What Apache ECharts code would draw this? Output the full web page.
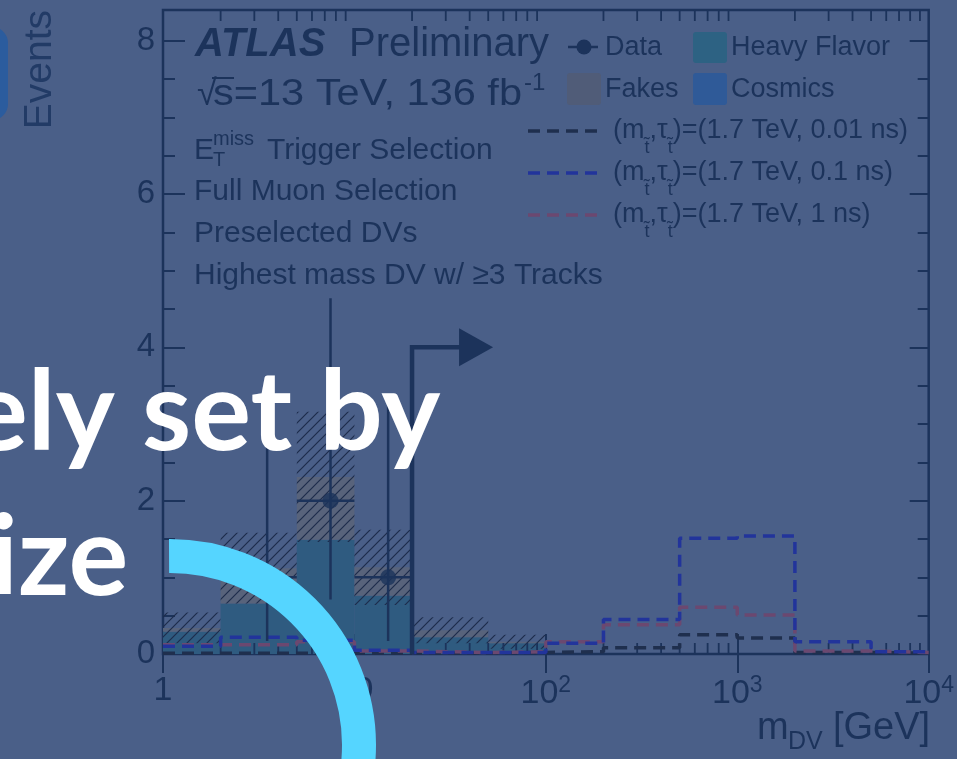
<!DOCTYPE html>
<html>
<head>
<meta charset="utf-8">
<script src="https://cdn.jsdelivr.net/npm/echarts@6/dist/echarts.min.js"></script>
<style>
  html, body { margin: 0; padding: 0; background: #4a5f88; }
  #main { width: 957px; height: 759px; }
</style>
</head>
<body>
<div id="main"></div>
<script>
// ---- m_DV histogram contents (bin edges in GeV, 12 bins) ----
const binEdges    = [1, 2, 5, 10, 20, 50, 100, 200, 500, 1000, 2000, 5000, 10000];
const heavyFlavor = [0.29, 0.66, 1.49, 0.76, 0.22, 0.14, 0, 0, 0, 0, 0, 0];
const fakes       = [0.05, 0.46, 0.82, 0.37, 0.09, 0.02, 0, 0, 0, 0, 0, 0];
const cosmics     = [0, 0, 0, 0, 0, 0, 0, 0, 0, 0, 0, 0];
const bkgUncert   = [0.20, 0.46, 0.85, 0.49, 0.17, 0.09, 0, 0, 0, 0, 0, 0];

// observed events and Poisson error bars
const dataCounts  = [0, 1, 2, 1, 0, 0, 0, 0, 0, 0, 0, 0];
const dataErrLow  = [0, 0.83, 1.29, 0.83, 0, 0, 0, 0, 0, 0, 0, 0];
const dataErrHigh = [0, 2.30, 2.64, 2.30, 0, 0, 0, 0, 0, 0, 0, 0];

// signal benchmarks (m_stop = 1.7 TeV)
const sig001ns = [0.01, 0.01, 0.01, 0.01, 0.01, 0.02, 0.03, 0.08, 0.25, 0.21, 0.02, 0.01];
const sig01ns  = [0.10, 0.22, 0.18, 0.05, 0.02, 0.02, 0.14, 0.45, 1.51, 1.54, 0.16, 0.03];
const sig1ns   = [0.12, 0.12, 0.16, 0.04, 0.02, 0.03, 0.16, 0.38, 0.61, 0.51, 0.04, 0.02];

// selection cut shown by the arrow
const cutMass = 20, arrowLevel = 4, arrowTip = 53;

// axes
const yTickValues = [0, 2, 4, 6, 8];
const yMax = 8.4;
const xMinorTicks = [2,3,4,5,6,7,8,9, 20,30,40,50,60,70,80,90, 200,300,400,500,600,700,800,900, 2000,3000,4000,5000,6000,7000,8000,9000];

const INK = '#1c335b';
const SANS = '"Liberation Sans", Arial, sans-serif';
const C_HF = '#2f5b80', C_FAKE = '#58637b', C_COS = '#2f5a98';
const C_S001 = '#1f2f4e', C_S01 = '#22349b', C_S1 = '#6b4870';

// diagonal hatch for the background uncertainty band
const hatch = document.createElement('canvas');
hatch.width = 10; hatch.height = 10;
(function () {
  const c = hatch.getContext('2d');
  c.strokeStyle = '#1e2d4c'; c.lineWidth = 1.2;
  c.beginPath();
  c.moveTo(0, 10); c.lineTo(10, 0);
  c.moveTo(-1, 1); c.lineTo(1, -1);
  c.moveTo(9, 11); c.lineTo(11, 9);
  c.stroke();
})();

const bkgRows = heavyFlavor.map((h, i) => [binEdges[i], binEdges[i + 1], h, fakes[i], cosmics[i], bkgUncert[i]]);
const dataRows = [];
dataCounts.forEach((n, i) => {
  if (n > 0) dataRows.push([(binEdges[i] + binEdges[i + 1]) / 2, n, binEdges[i], binEdges[i + 1], n - dataErrLow[i], n + dataErrHigh[i]]);
});
function stepRows(vals) {
  const rows = vals.map((v, i) => [binEdges[i], v]);
  rows.push([binEdges[binEdges.length - 1], vals[vals.length - 1]]);
  return rows;
}

function renderBkg(params, api) {
  const x0 = api.value(0), x1 = api.value(1);
  const hf = api.value(2), fk = api.value(3), co = api.value(4), un = api.value(5);
  const tot = hf + fk + co;
  if (tot <= 0) return { type: 'group', children: [] };
  const box = (lo, hi, style) => {
    const a = api.coord([x0, lo]), b = api.coord([x1, hi]);
    return { type: 'rect', shape: { x: a[0], y: b[1], width: b[0] - a[0], height: a[1] - b[1] }, style };
  };
  const kids = [
    box(0, hf, { fill: C_HF }),
    box(hf, hf + fk, { fill: C_FAKE }),
    box(hf + fk, tot, { fill: C_COS }),
  ];
  if (un > 0) kids.push(box(Math.max(0, tot - un), tot + un, { fill: { image: hatch, repeat: 'repeat' } }));
  return { type: 'group', children: kids };
}

function renderDataErr(params, api) {
  const xc = api.value(0), y = api.value(1);
  const a = api.coord([api.value(2), y]), b = api.coord([api.value(3), y]);
  const lo = api.coord([xc, api.value(4)]), hi = api.coord([xc, api.value(5)]);
  const st = { stroke: INK, lineWidth: 2.5 };
  return { type: 'group', children: [
    { type: 'line', shape: { x1: a[0], y1: a[1], x2: b[0], y2: b[1] }, style: st },
    { type: 'line', shape: { x1: lo[0], y1: lo[1], x2: hi[0], y2: hi[1] }, style: st },
  ] };
}

function renderMinorX(params, api) {
  const v = api.value(0);
  const b = api.coord([v, 0]), t = api.coord([v, yMax]);
  const st = { stroke: INK, lineWidth: 1.8 };
  return { type: 'group', children: [
    { type: 'line', shape: { x1: b[0], y1: b[1], x2: b[0], y2: b[1] - 11 }, style: st },
    { type: 'line', shape: { x1: t[0], y1: t[1], x2: t[0], y2: t[1] + 11 }, style: st },
  ] };
}

function renderArrow(params, api) {
  const base = api.coord([api.value(0), 0]);
  const corner = api.coord([api.value(0), api.value(1)]);
  const tip = api.coord([api.value(2), api.value(1)]);
  const headLen = 34, headHalf = 19;
  return { type: 'group', children: [
    { type: 'polyline', shape: { points: [base, corner, [tip[0] - headLen + 2, tip[1]]] },
      style: { stroke: INK, lineWidth: 4.5, fill: null } },
    { type: 'polygon', shape: { points: [[tip[0] - headLen, tip[1] - headHalf], [tip[0], tip[1]], [tip[0] - headLen, tip[1] + headHalf]] },
      style: { fill: INK } },
  ] };
}

// ---- text helpers ----
const mctx = document.createElement('canvas').getContext('2d');
function fontStr(size, weight, style, family) {
  return `${style || 'normal'} ${weight || 'normal'} ${size}px ${family || SANS}`;
}
function measure(text, size, weight, style, family) {
  mctx.font = fontStr(size, weight, style, family);
  return mctx.measureText(text).width;
}
function txt(x, base, text, size, o) {
  o = o || {};
  const k = o.mid || 0.347;
  return { type: 'text', x, y: base - k * size, z: o.z || 10, rotation: o.rotation || 0, scaleX: o.scaleX || 1,
    style: { text, fill: o.fill || INK, font: fontStr(size, o.weight, o.style, o.family),
      align: o.align || 'left', verticalAlign: 'middle' } };
}
// sequence of text runs laid out left to right, each with its own size and baseline shift
function runs(x, base, parts) {
  const out = [];
  let cx = x;
  parts.forEach(p => {
    out.push(txt(cx, base + (p.dy || 0), p.t, p.s, p));
    cx += measure(p.t, p.s, p.weight, p.style) + (p.gap || 0);
  });
  return out;
}

const graphics = [];
// ATLAS label and selection text
graphics.push(txt(195, 59, 'ATLAS', 40, { weight: 'bold', style: 'italic' }));
graphics.push(txt(349, 59, 'Preliminary', 40));
graphics.push(txt(197, 108, '\u221A', 36));
graphics.push({ type: 'line', z: 10, shape: { x1: 212, y1: 78, x2: 234, y2: 78 }, style: { stroke: INK, lineWidth: 2 } });
const lumiText = 's=13 TeV, 136 fb';
graphics.push(txt(213, 108, lumiText, 37, { scaleX: 309 / measure(lumiText, 37) }));
graphics.push(txt(524, 92, '-1', 24));
graphics.push(txt(194, 161, 'E', 30));
graphics.push(txt(213, 146, 'miss', 20));
graphics.push(txt(213, 167, 'T', 20));
graphics.push(txt(267, 161, 'Trigger Selection', 30));
graphics.push(txt(194, 202, 'Full Muon Selection', 30));
graphics.push(txt(194, 244, 'Preselected DVs', 30));
graphics.push(txt(194, 286, 'Highest mass DV w/ \u22653 Tracks', 30));

// legend
graphics.push({ type: 'line', z: 10, shape: { x1: 568, y1: 47, x2: 598, y2: 47 }, style: { stroke: INK, lineWidth: 2.5 } });
graphics.push({ type: 'circle', z: 10, shape: { cx: 584, cy: 47, r: 7.5 }, style: { fill: INK } });
graphics.push(txt(605, 57, 'Data', 27));
graphics.push({ type: 'rect', z: 10, shape: { x: 693, y: 32, width: 34, height: 31, r: 3 }, style: { fill: '#2d6283' } });
graphics.push(txt(731, 57, 'Heavy Flavor', 27));
graphics.push({ type: 'rect', z: 10, shape: { x: 567, y: 73, width: 34, height: 32, r: 3 }, style: { fill: '#505c78' } });
graphics.push(txt(605, 99, 'Fakes', 27));
graphics.push({ type: 'rect', z: 10, shape: { x: 693, y: 73, width: 34, height: 32, r: 3 }, style: { fill: C_COS } });
graphics.push(txt(731, 99, 'Cosmics', 27));
const sigLegend = [
  { y: 131, color: C_S001, label: '0.01 ns' },
  { y: 173, color: C_S01, label: '0.1 ns' },
  { y: 215, color: C_S1, label: '1 ns' },
];
sigLegend.forEach(e => {
  graphics.push({ type: 'line', z: 10, shape: { x1: 528, y1: e.y, x2: 598, y2: e.y },
    style: { stroke: e.color, lineWidth: 3.5, lineDash: [12, 7] } });
  const b = e.y + 9;
  graphics.push(...runs(613, b, [
    { t: '(m', s: 27 },
    { t: 't\u0303', s: 18, dy: 14 },
    { t: ',\u03C4', s: 27 },
    { t: 't\u0303', s: 18, dy: 14 },
    { t: ')=(1.7 TeV, ' + e.label + ')', s: 27 },
  ]));
});

// x-axis title
graphics.push(txt(757, 742, 'm', 38));
graphics.push(txt(788, 751, 'DV', 25));
graphics.push(txt(833, 742, '[GeV]', 38));
// y-axis title
graphics.push({ type: 'text', x: 40, y: 10, rotation: Math.PI / 2, z: 10,
  style: { text: 'Events', fill: '#223b66', font: fontStr(39), align: 'right', verticalAlign: 'middle' } });

// foreground: side tab, caption words and ring segment
graphics.push({ type: 'rect', z: 50, shape: { x: -70, y: 27, width: 78, height: 93, r: 16 }, style: { fill: '#2b5c9e' } });
const LATO = 'Lato, "Open Sans", sans-serif';
const capSize = 112;
graphics.push(txt(142 - measure('ely ', capSize, 'bold', 'normal', LATO), 457, 'ely set by', capSize,
  { fill: '#ffffff', weight: 'bold', family: LATO, mid: 0.387, z: 60 }));
graphics.push(txt(18 - measure('i', capSize, 'bold', 'normal', LATO), 602, 'ize', capSize,
  { fill: '#ffffff', weight: 'bold', family: LATO, mid: 0.387, z: 60 }));
graphics.push({ type: 'arc', z: 70, shape: { cx: 170, cy: 745, r: 189, startAngle: -Math.PI / 2 - 0.005, endAngle: 0.35, clockwise: true },
  style: { stroke: '#55d5ff', lineWidth: 34, fill: null, lineCap: 'butt' } });

const chart = echarts.init(document.getElementById('main'), null, { renderer: 'canvas' });
chart.setOption({
  animation: false,
  backgroundColor: '#4a5f88',
  grid: { left: 163, right: 27, top: 10, bottom: 105, show: true, borderColor: INK, borderWidth: 2.5, backgroundColor: 'transparent' },
  xAxis: [
    { type: 'log', logBase: 10, min: 1, max: 10000, position: 'bottom',
      axisLine: { show: false }, splitLine: { show: false },
      axisTick: { show: true, inside: true, length: 20, lineStyle: { color: INK, width: 2 } },
      axisLabel: { color: INK, fontFamily: SANS, fontSize: 34, margin: 20,
        formatter: v => {
          const p = Math.round(Math.log10(v));
          if (p === 0) return '1';
          if (p === 1) return '10';
          return '10{sup|' + p + '}';
        },
        rich: { sup: { fontSize: 23, color: INK, fontFamily: SANS, verticalAlign: 'top', padding: [0, 0, 16, 0] } } } },
    { type: 'log', logBase: 10, min: 1, max: 10000, position: 'top',
      axisLine: { show: false }, splitLine: { show: false }, axisLabel: { show: false },
      axisTick: { show: true, inside: true, length: 19, lineStyle: { color: INK, width: 2 } } },
  ],
  yAxis: [
    { type: 'value', min: 0, max: yMax, interval: 2, position: 'left',
      axisLine: { show: false }, splitLine: { show: false },
      axisTick: { show: true, inside: true, length: 22, lineStyle: { color: INK, width: 2 } },
      minorTick: { show: true, splitNumber: 4, length: 12, lineStyle: { color: INK, width: 2 } },
      axisLabel: { color: INK, fontFamily: SANS, fontSize: 33, margin: 8, showMaxLabel: false,
        formatter: v => (yTickValues.indexOf(v) >= 0 ? String(v) : '') } },
    { type: 'value', min: 0, max: yMax, interval: 2, position: 'right',
      axisLine: { show: false }, splitLine: { show: false }, axisLabel: { show: false },
      axisTick: { show: true, inside: true, length: 19, lineStyle: { color: INK, width: 2 } },
      minorTick: { show: true, splitNumber: 4, length: 11, lineStyle: { color: INK, width: 2 } } },
  ],
  series: [
    { name: 'Background', type: 'custom', renderItem: renderBkg, data: bkgRows, clip: true, z: 2 },
    { name: 'minor ticks', type: 'custom', renderItem: renderMinorX, data: xMinorTicks.map(v => [v]), silent: true, z: 3 },
    { name: '0.01 ns', type: 'line', step: 'end', data: stepRows(sig001ns), showSymbol: false, z: 4,
      lineStyle: { color: C_S001, width: 3.5, type: [12, 7] } },
    { name: '1 ns', type: 'line', step: 'end', data: stepRows(sig1ns), showSymbol: false, z: 4,
      lineStyle: { color: C_S1, width: 3.5, type: [12, 7] } },
    { name: '0.1 ns', type: 'line', step: 'end', data: stepRows(sig01ns), showSymbol: false, z: 4,
      lineStyle: { color: C_S01, width: 3.5, type: [12, 7] } },
    { name: 'Data errors', type: 'custom', renderItem: renderDataErr, data: dataRows, z: 5 },
    { name: 'Data', type: 'scatter', data: dataRows.map(r => [r[0], r[1]]), symbolSize: 16, itemStyle: { color: INK }, z: 6 },
    { name: 'Cut', type: 'custom', renderItem: renderArrow, data: [[cutMass, arrowLevel, arrowTip]], clip: false, z: 6 },
  ],
  graphic: { elements: graphics },
});
</script>
</body>
</html>
